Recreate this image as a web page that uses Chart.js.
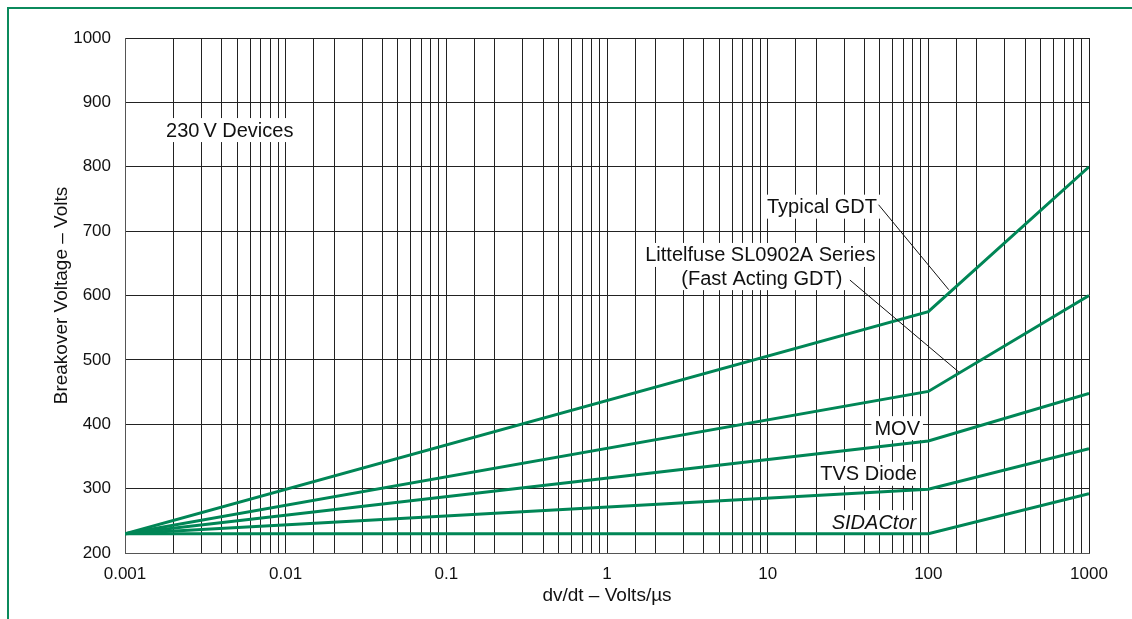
<!DOCTYPE html>
<html>
<head>
<meta charset="utf-8">
<script src="https://cdn.jsdelivr.net/npm/chart.js@4/dist/chart.umd.min.js"></script>
<style>
  html, body { margin: 0; padding: 0; background: #fff; }
  #wrap { position: relative; width: 1132px; height: 619px; }
  #frame { position: absolute; left: 7px; top: 7px; right: 0; bottom: 0;
           border-left: 2px solid #0b8a5c; border-top: 2px solid #0b8a5c; pointer-events: none; }
</style>
</head>
<body>
<div id="wrap">
  <canvas id="myChart" width="1132" height="619"></canvas>
  <div id="frame"></div>
</div>
<script>
// data
var dvdt = [0.001, 100, 1000]
var typicalGdt = [230, 575, 800]
var sl0902a = [230, 451, 600]
var mov = [230, 374, 448]
var tvsDiode = [230, 299, 362]
var sidactor = [230, 230, 292]

var xTickLabels = ['0.001', '0.01', '0.1', '1', '10', '100', '1000']
var yTicks = [200, 300, 400, 500, 600, 700, 800, 900, 1000]

// annotation texts (anchored in data units)
var notes = [
    { text: '230\u2009V Devices', x: 0.0018, y: 857, align: 'left' },
    { text: 'Typical GDT', x: 47.9, y: 738, align: 'right' },
    { text: 'Littelfuse SL0902A Series', x: 9.0, y: 663, align: 'center' },
    { text: '(Fast Acting GDT)', x: 9.2, y: 627, align: 'center' },
    { text: 'MOV', x: 88.7, y: 394, align: 'right' },
    { text: 'TVS Diode', x: 85, y: 323, align: 'right' },
    { text: 'SIDACtor', x: 84, y: 248, align: 'right', italic: true }
]
var leaders = [
    [[49, 741], [134, 609]],
    [[32.5, 624], [155, 481]]
]

var green = 'rgb(0, 134, 86)'
var fontFamily = '"Liberation Sans", Arial, Helvetica, sans-serif'

function toPoints(ys) {
    return dvdt.map(function (x, i) { return { x: x, y: ys[i] } })
}

function series(label, ys) {
    return {
        label: label,
        data: toPoints(ys),
        borderColor: green,
        backgroundColor: green,
        borderWidth: 3,
        pointRadius: 0,
        tension: 0,
        fill: false
    }
}

// text labels go under the green lines, leader lines on top
let notesPlugin = {
    id: 'notes',
    beforeDatasetsDraw: function (chart) {
        let ctx = chart.ctx
        let xs = chart.scales.x, ys = chart.scales.y
        ctx.save()
        ctx.textBaseline = 'middle'
        notes.forEach(function (n) {
            ctx.font = (n.italic ? 'italic ' : '') + '20px ' + fontFamily
            let w = ctx.measureText(n.text).width
            let px = xs.getPixelForValue(n.x), py = ys.getPixelForValue(n.y)
            let left = n.align === 'left' ? px : n.align === 'right' ? px - w : px - w / 2
            ctx.fillStyle = '#fff'
            ctx.fillRect(left - 3, py - 12, w + 6, 24)
            ctx.fillStyle = '#111'
            ctx.textAlign = 'left'
            ctx.fillText(n.text, left, py + 1)
        })
        ctx.restore()
    },
    afterDatasetsDraw: function (chart) {
        let ctx = chart.ctx
        let xs = chart.scales.x, ys = chart.scales.y
        ctx.save()
        ctx.strokeStyle = '#111'
        ctx.lineWidth = 1
        leaders.forEach(function (l) {
            ctx.beginPath()
            ctx.moveTo(xs.getPixelForValue(l[0][0]), ys.getPixelForValue(l[0][1]))
            ctx.lineTo(xs.getPixelForValue(l[1][0]), ys.getPixelForValue(l[1][1]))
            ctx.stroke()
        })
        ctx.restore()
    }
}

let ctx = document.getElementById('myChart').getContext('2d')
let myChart = new Chart(ctx, {
    type: 'line',
    data: {
        datasets: [
            series('Typical GDT', typicalGdt),
            series('Littelfuse SL0902A Series', sl0902a),
            series('MOV', mov),
            series('TVS Diode', tvsDiode),
            series('SIDACtor', sidactor)
        ]
    },
    plugins: [notesPlugin],
    options: {
        responsive: false,
        animation: false,
        layout: { padding: { top: 38, right: 43, left: 0, bottom: 0 } },
        plugins: { legend: { display: false }, tooltip: { enabled: false } },
        scales: {
            x: {
                type: 'logarithmic',
                min: 0.001,
                max: 1000,
                afterFit: function (scale) { scale.height = 66 },
                grid: { color: '#222', lineWidth: 1, drawTicks: false, tickLength: 0 },
                border: { color: '#555', width: 1 },
                ticks: {
                    autoSkip: false,
                    maxRotation: 0,
                    padding: 11,
                    color: '#111',
                    font: { family: fontFamily, size: 17 },
                    callback: function (v) {
                        let e = Math.log10(v)
                        if (Math.abs(e - Math.round(e)) < 1e-6) return xTickLabels[Math.round(e) + 3]
                        return ''
                    }
                },
                title: {
                    display: true,
                    text: 'dv/dt \u2013 Volts/\u00b5s',
                    color: '#111',
                    font: { family: fontFamily, size: 19 },
                    padding: { top: 0, bottom: 12 }
                }
            },
            y: {
                min: 200,
                max: 1000,
                afterFit: function (scale) { scale.width = 125 },
                afterBuildTicks: function (scale) { scale.ticks = yTicks.map(function (v) { return { value: v } }) },
                grid: { color: '#222', lineWidth: 1, drawTicks: false, tickLength: 0 },
                border: { color: '#555', width: 1 },
                ticks: {
                    padding: 14,
                    color: '#111',
                    font: { family: fontFamily, size: 17 },
                    callback: function (v) { return String(v) }
                },
                title: {
                    display: true,
                    text: 'Breakover Voltage \u2013 Volts',
                    color: '#111',
                    font: { family: fontFamily, size: 19 },
                    padding: { top: 50, bottom: 0 }
                }
            }
        }
    }
})
</script>
</body>
</html>
